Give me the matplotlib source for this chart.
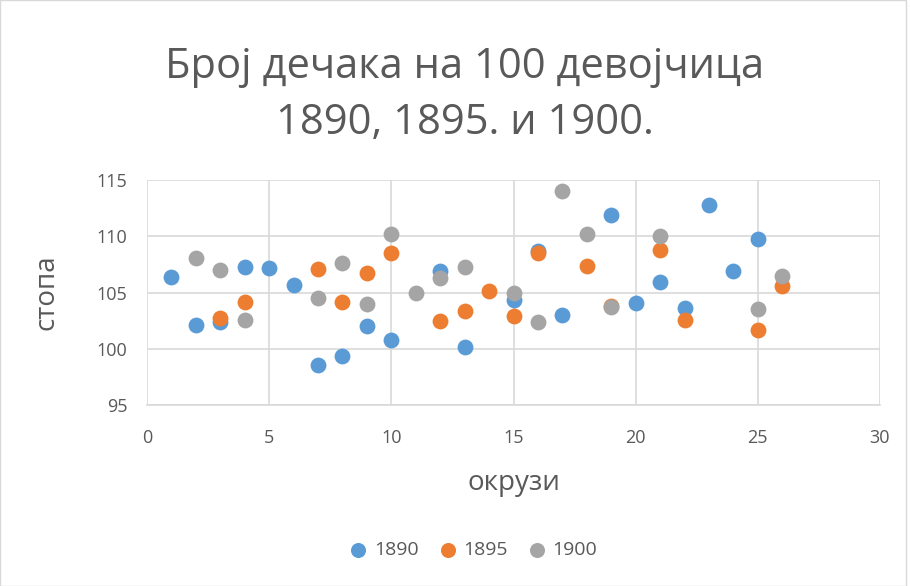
import matplotlib
matplotlib.use("Agg")
import matplotlib.pyplot as plt
from matplotlib.patches import Rectangle

title = "Број дечака на 100 девојчица\n1890, 1895. и 1900."
xlabel = "окрузи"
ylabel = "стопа"

x1890 = [1, 2, 3, 4, 5, 6, 7, 8, 9, 10, 12, 13, 15, 16, 17, 19, 20, 21, 22, 23, 24, 25]
y1890 = [106.4, 102.1, 102.4, 107.3, 107.2, 105.7, 98.6, 99.4, 102.0, 100.8, 106.9, 100.2,
         104.3, 108.7, 103.0, 111.9, 104.1, 105.9, 103.6, 112.8, 106.9, 109.8]

x1895 = [3, 4, 7, 8, 9, 10, 12, 13, 14, 15, 16, 18, 19, 21, 22, 25, 26]
y1895 = [102.7, 104.2, 107.1, 104.2, 106.7, 108.5, 102.5, 103.4, 105.1, 102.9, 108.5,
         107.4, 103.8, 108.8, 102.6, 101.7, 105.6]

x1900 = [2, 3, 4, 7, 8, 9, 10, 11, 12, 13, 15, 16, 17, 18, 19, 21, 25, 26]
y1900 = [108.1, 107.0, 102.6, 104.5, 107.6, 104.0, 110.2, 105.0, 106.3, 107.3, 105.0,
         102.4, 114.0, 110.2, 103.7, 110.0, 103.5, 106.5]

series = [("1890", x1890, y1890, "#5B9BD5"),
          ("1895", x1895, y1895, "#ED7D31"),
          ("1900", x1900, y1900, "#A5A5A5")]

plt.rcParams['font.family'] = ['Open Sans', 'DejaVu Sans']
txt = "#595959"

fig = plt.figure(figsize=(9.1, 5.86), dpi=100)
ax = fig.add_axes([147/910, 1-405/586, (880-147)/910, (405-180)/586])

for name, xs, ys, c in series:
    ax.scatter(xs, ys, s=130, color=c, label=name, zorder=3, linewidths=0)

ax.set_xlim(0, 30)
ax.set_ylim(95, 115)
ax.set_xticks(range(0, 31, 5))
ax.set_yticks(range(95, 116, 5))
ax.grid(True, color="#D9D9D9", linewidth=1.2, zorder=0)
for s in ax.spines.values():
    s.set_visible(False)
ax.spines['bottom'].set_visible(True)
ax.spines['bottom'].set_color("#D9D9D9")
ax.spines['bottom'].set_linewidth(1.2)
ax.tick_params(length=0, labelsize=13, colors=txt)
ax.tick_params(axis='x', pad=17)
ax.tick_params(axis='y', pad=14)

ax.set_xlabel(xlabel, fontsize=20, color=txt, labelpad=16)
ax.set_ylabel(ylabel, fontsize=20, color=txt, labelpad=26)

fig.text(0.511, 1-95/586, title, ha="center", va="center", fontsize=30,
         color=txt, linespacing=1.45)

leg = fig.legend(loc="center", bbox_to_anchor=(468/910, 1-550/586), ncol=3,
                 frameon=False, fontsize=14, handletextpad=-0.2, columnspacing=0.5,
                 markerscale=0.95, labelcolor=txt)

fig.patches.append(Rectangle((0, 0), 906/910, 1, transform=fig.transFigure,
                             fill=False, edgecolor="#D9D9D9", linewidth=1))

fig.savefig("out.png", dpi=100)
